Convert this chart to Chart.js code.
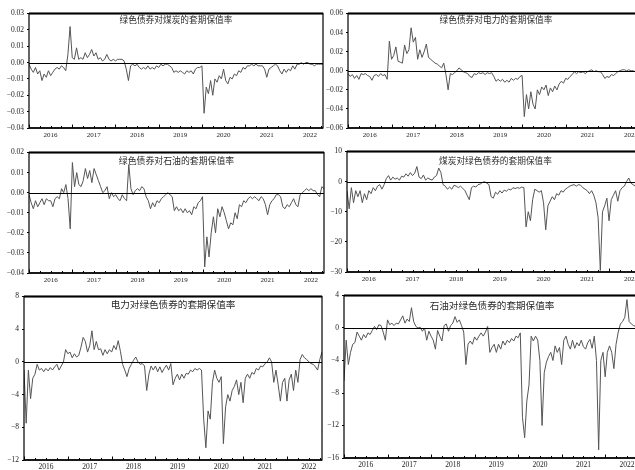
<!DOCTYPE html>
<html>
<head>
<meta charset="utf-8">
<script src="https://cdn.jsdelivr.net/npm/chart.js@4"></script>
<style>
  html, body { margin: 0; padding: 0; background: #fff; }
  body { width: 635px; height: 470px; overflow: hidden; position: relative; }
  canvas { position: absolute; }
</style>
</head>
<body>
<canvas id="p1"></canvas>
<canvas id="p2"></canvas>
<canvas id="p3"></canvas>
<canvas id="p4"></canvas>
<canvas id="p5"></canvas>
<canvas id="p6"></canvas>
<script>
// ===== 时间轴（每 0.05 年一个采样点，2016.00 ~ 2022.80） =====
const dates = Array.from({ length: 137 }, (_, i) => 2016 + i / 20);
const yearLabels = ['2016', '2017', '2018', '2019', '2020', '2021', '2022'];

// ===== 标题 =====
const titles = [
  '绿色债券对煤炭的套期保值率',
  '绿色债券对电力的套期保值率',
  '绿色债券对石油的套期保值率',
  '煤炭对绿色债券的套期保值率',
  '电力对绿色债券的套期保值率',
  '石油对绿色债券的套期保值率'
];

// ===== y 轴刻度 =====
const ticksGreenCoal  = [-0.04, -0.03, -0.02, -0.01, 0, 0.01, 0.02, 0.03];
const ticksGreenPower = [-0.06, -0.04, -0.02, 0, 0.02, 0.04, 0.06];
const ticksGreenOil   = [-0.04, -0.03, -0.02, -0.01, 0, 0.01, 0.02];
const ticksCoalGreen  = [-30, -20, -10, 0, 10];
const ticksPowerGreen = [-12, -8, -4, 0, 4, 8];
const ticksOilGreen   = [-16, -12, -8, -4, 0, 4];

// ===== 套期保值率序列 =====
const greenVsCoal = [
  -0.001, -0.004, -0.006, -0.003, -0.007, -0.005, -0.011, -0.007, -0.009, -0.005,
  -0.008, -0.006, -0.004, -0.003, -0.004, -0.002, -0.003, -0.005, 0.005, 0.022,
  0.003, 0.002, 0.009, 0.002, 0.003, 0.002, 0.006, 0.003, 0.005, 0.008,
  0.004, 0.006, 0.002, 0.003, 0.001, 0.002, 0.005, 0.002, 0.001, 0.002,
  0.001, 0.002, 0.002, 0.002, 0.001, -0.004, -0.011, -0.002, -0.001, -0.002,
  -0.001, -0.003, -0.004, -0.003, -0.004, -0.002, -0.004, -0.003, -0.004, -0.002,
  -0.003, -0.001, -0.002, -0.001, -0.001, -0.002, -0.003, -0.006, -0.005, -0.006,
  -0.005, -0.006, -0.007, -0.005, -0.006, -0.005, -0.007, -0.004, -0.003, -0.003,
  -0.002, -0.031, -0.015, -0.019, -0.011, -0.020, -0.010, -0.012, -0.008, -0.010,
  -0.004, -0.011, -0.013, -0.009, -0.010, -0.007, -0.008, -0.005, -0.006, -0.003,
  -0.004, -0.002, -0.002, -0.001, -0.002, -0.001, -0.002, -0.002, -0.002, -0.004,
  -0.009, -0.004, -0.003, -0.002, -0.001, -0.002, -0.005, -0.007, -0.004, -0.006,
  -0.004, -0.005, -0.002, -0.004, -0.001, -0.001, 0.000, -0.001, 0.000, 0.000,
  -0.001, -0.001, -0.002, -0.001, -0.001, -0.001, -0.001
];

const greenVsPower = [
  -0.003, -0.006, -0.004, -0.008, -0.005, -0.009, -0.003, -0.004, -0.003, -0.005,
  -0.006, -0.010, -0.005, -0.004, -0.006, -0.003, -0.005, -0.004, -0.009, 0.031,
  0.012, 0.016, 0.025, 0.010, 0.009, 0.008, 0.027, 0.018, 0.022, 0.045,
  0.030, 0.035, 0.012, 0.022, 0.014, 0.020, 0.028, 0.014, 0.012, 0.010,
  0.008, 0.007, 0.005, 0.003, 0.008, -0.004, -0.020, -0.003, -0.004, -0.002,
  0.000, 0.003, 0.001, -0.001, -0.002, -0.003, -0.006, -0.007, -0.003, -0.004,
  -0.002, -0.003, -0.002, -0.004, -0.002, -0.003, -0.002, -0.006, -0.011, -0.009,
  -0.011, -0.009, -0.012, -0.010, -0.012, -0.008, -0.010, -0.008, -0.009, -0.006,
  -0.005, -0.048, -0.025, -0.040, -0.022, -0.035, -0.040, -0.020, -0.025, -0.017,
  -0.020, -0.015, -0.026, -0.018, -0.022, -0.016, -0.020, -0.014, -0.011, -0.013,
  -0.008, -0.009, -0.006, -0.004, -0.001, -0.003, -0.001, -0.002, -0.001, -0.003,
  -0.001, 0.000, 0.001, -0.001, 0.000, -0.001, -0.001, -0.004, -0.008, -0.006,
  -0.007, -0.004, -0.005, -0.003, -0.001, 0.000, 0.001, 0.001, 0.000, 0.001,
  0.000, 0.000, -0.001, 0.000, 0.000, -0.001, 0.000
];

const greenVsOil = [
  -0.001, -0.005, -0.008, -0.004, -0.007, -0.005, -0.003, -0.006, -0.003, -0.004,
  -0.004, -0.007, -0.003, -0.002, -0.003, 0.002, 0.000, 0.004, -0.003, -0.018,
  0.015, 0.003, 0.010, 0.004, 0.003, 0.006, 0.012, 0.007, 0.011, 0.005,
  0.012, 0.009, 0.006, 0.003, 0.000, 0.001, 0.003, -0.003, 0.000, -0.002,
  -0.001, -0.003, -0.004, -0.001, -0.003, -0.004, 0.014, 0.002, -0.001, 0.001,
  0.002, 0.001, 0.003, 0.002, -0.002, -0.004, -0.008, -0.005, -0.007, -0.004,
  -0.005, -0.003, -0.002, -0.001, 0.000, -0.001, -0.002, -0.009, -0.007, -0.009,
  -0.008, -0.010, -0.008, -0.010, -0.009, -0.011, -0.007, -0.008, -0.005, -0.004,
  -0.002, -0.037, -0.022, -0.032, -0.020, -0.012, -0.020, -0.008, -0.012, -0.007,
  -0.010, -0.014, -0.018, -0.015, -0.016, -0.010, -0.013, -0.006, -0.007, -0.004,
  -0.005, -0.003, -0.002, -0.003, -0.002, -0.003, -0.004, -0.002, -0.003, -0.006,
  -0.011, -0.006, -0.004, -0.003, -0.001, -0.001, -0.002, -0.007, -0.008, -0.006,
  -0.007, -0.005, -0.003, -0.006, -0.007, -0.001, 0.000, 0.001, 0.002, 0.001,
  0.002, 0.001, 0.001, -0.001, -0.002, 0.003, 0.002
];

const coalVsGreen = [
  -3, -9, -2, -7, -3, -5, -3, -7, -4, -6,
  -3, -4, -2, -3, -1.5, -1, -2.5, -1, 1, 2,
  0.5, 1.5, 0.8, 1.2, 0.5, 1.8, 1.5, 2.6, 1.8, 3,
  2, 2.8, 5, 1.5, 1, 2.2, 0.5, 1.2, 0.8, 0.5,
  1.5, 2, 4.5, 3, -1, -1.5, -2.5, -1.8, -2.5, -1.2,
  -1.5, -2, -1.5, -2.2, -3, -4.5, -6, -2, -1.5, -1.8,
  -1, -0.8, -0.3, 0, -0.5, -1, -5, -5.5, -3.5, -4.2,
  -3, -3.8, -2.8, -3.2, -2.5, -2.8, -2, -2.3, -2, -2.2,
  -1.8, -2, -15, -10, -13, -6, -2.5, -3, -3.5, -3,
  -7, -16, -8, -6.5, -5, -6, -4, -4.5, -3, -3.5,
  -2.5, -2, -1.5, -1.2, -1, -1.5, -1, -1.2, -2, -2.5,
  -3, -4, -3, -4.5, -7, -12, -29.5, -10, -8, -5.5,
  -13, -6, -4.5, -3, -6.5, -3, -2, -1.5, 0, 1.2,
  -0.5, -1, -1.5, -1, -2, -1.5, -1
];

const powerVsGreen = [
  -1, -7.5, -1, -4.5, -2, -1.5, -0.3, -1, -0.8, -1.2,
  -0.8, -1.1, -0.7, -1, -0.6, -0.3, -1, -0.5, 0, 1.5,
  1, 1.2, 0.5, 1, 0.6, 0.8, 1.8, 3, 2.5, 1.2,
  2, 3.8, 1.5, 2.5, 1.5, 1.6, 0.8, 1.5, 1, 1.5,
  1.2, 2, 1.5, 2.6, 1.3, -0.3, -1, -1.8, -0.8, -0.3,
  0.2, 0.6, 0, -0.3, -0.2, -0.5, -3.5, -1.5, -0.5, -1,
  -0.5, -1.2, -0.6, -1.3, -0.8, -0.4, -1, -0.2, -2.8, -2,
  -1.5, -2.2, -1.5, -2, -1.4, -1.5, -1, -1.2, -0.8, -1,
  -0.8, -1, -7, -10.5, -6, -7, -2.5, -1, -2, -2.5,
  -1.8, -10, -5.5, -4, -4.8, -3.5, -3, -2.2, -4, -2.5,
  -5, -2, -1.5, -2, -1.3, -1.5, -0.8, -1, -0.5, -0.6,
  -0.2, 0, 0.5, 0, -2.5, -1, -2.8, -4.8, -2.5, -2,
  -4.8, -2.2, -1.5, -3.5, -1, -2.5, 0.3, 0.9, 0.5, 0.3,
  0, -0.2, -0.3, -0.6, -1, 0.3, 1.2
];

const oilVsGreen = [
  -6.5, -1.5, -4.5, -3, -2, -1.8, -0.5, -1, -1.5, -0.8,
  -1.2, -0.6, -0.8, -0.3, 0.2, -0.2, 0.4, 0.3, -0.5, -1.5,
  1, 0.4, 0.6, 0.3, 0.6, 0.5, 1, 1.5, 0.6, 1.1,
  0.8, 2.5, 0.8, 0.2, 0, 0.1, -0.4, 0, -1.5, -0.4,
  -1, -1.5, -2.6, -0.3, -1, -1.6, 0.3, 0.5, -0.4, 0.3,
  0.6, 1.4, 0.7, 1, 0.3, -0.5, -4.5, -2, -1.6, -2,
  -1.1, -1.5, -1, -0.6, -1, -0.5, 0.2, -3, -2.4, -2,
  -3, -2, -2.6, -1.6, -2.1, -1.5, -1.8, -1.3, -1.6, -1,
  -1.2, -0.6, -11, -13.5, -9, -7, -1, -1.6, -1, -1.5,
  -4, -12, -5.5, -4.2, -3.5, -3, -4, -2.2, -3, -2.4,
  -4.5, -1.5, -1, -2, -2.6, -1.5, -2.5, -1.8, -2.2, -1.5,
  -2.3, -2.6, -1.8, -1.4, -2.5, -1, -4, -15, -4, -3,
  -6, -3, -2.2, -3, -5, -2, -0.5, 0.5, 0.8, 1.3,
  3.5, 0.8, 0.5, 0.3, 0.2, 0.3, 0.1
];

// ===== 面板布局 =====
const panels = [
  { id: 'p1', left: 0,   top: 6,   w: 326, h: 136, wy: 29, hx: 14, data: greenVsCoal,  ticks: ticksGreenCoal,  dec: 2, tsize: 8.7, tdy: 6 },
  { id: 'p2', left: 316, top: 6,   w: 331, h: 136, wy: 32, hx: 14, data: greenVsPower, ticks: ticksGreenPower, dec: 2, tsize: 8.7, tdy: 6 },
  { id: 'p3', left: 0,   top: 145, w: 327, h: 142, wy: 29, hx: 14, data: greenVsOil,   ticks: ticksGreenOil,   dec: 2, tsize: 8.9, tdy: 8 },
  { id: 'p4', left: 316, top: 144, w: 331, h: 142, wy: 31, hx: 14, data: coalVsGreen,  ticks: ticksCoalGreen,  dec: 0, tsize: 8.7, tdy: 9 },
  { id: 'p5', left: 0,   top: 289, w: 325, h: 185, wy: 24, hx: 14, data: powerVsGreen, ticks: ticksPowerGreen, dec: 0, tsize: 9.6, tdy: 8 },
  { id: 'p6', left: 316, top: 288, w: 327, h: 184, wy: 28, hx: 14, data: oilVsGreen,   ticks: ticksOilGreen,   dec: 0, tsize: 9.6, tdy: 10 }
];

Chart.defaults.font.family = '"Liberation Serif", "DejaVu Serif", serif';
Chart.defaults.color = '#222';

// 边框、零线、x 轴内向刻度、面板标题
const panelDeco = {
  id: 'panelDeco',
  afterDraw(chart, args, opts) {
    const { ctx, chartArea: a, scales: { x, y } } = chart;
    ctx.save();
    ctx.strokeStyle = '#000';
    // 零线
    const y0 = Math.round(y.getPixelForValue(0)) + 0.5;
    ctx.lineWidth = 1.2;
    ctx.beginPath(); ctx.moveTo(a.left, y0); ctx.lineTo(a.right, y0); ctx.stroke();
    // 外框
    ctx.lineWidth = 1.2;
    ctx.strokeRect(a.left, a.top, a.right - a.left, a.bottom - a.top);
    ctx.lineWidth = 2;
    ctx.beginPath(); ctx.moveTo(a.left, a.top); ctx.lineTo(a.right, a.top); ctx.stroke();
    ctx.lineWidth = 1.6;
    ctx.beginPath(); ctx.moveTo(a.left, a.bottom); ctx.lineTo(a.right, a.bottom); ctx.stroke();
    // 季度刻度（年度长一些）
    ctx.lineWidth = 1;
    for (let k = 0; x.min + k * 0.25 <= x.max + 1e-9; k++) {
      const px = Math.round(x.getPixelForValue(x.min + k * 0.25)) + 0.5;
      const len = k % 4 === 0 ? 3.5 : 2;
      ctx.beginPath(); ctx.moveTo(px, a.bottom); ctx.lineTo(px, a.bottom - len); ctx.stroke();
    }
    // 标题
    ctx.fillStyle = '#2a2a2a';
    ctx.font = opts.size + 'px "Noto Sans CJK SC"';
    ctx.textAlign = 'center';
    ctx.textBaseline = 'middle';
    ctx.fillText(opts.text, (a.left + a.right) / 2, a.top + opts.dy);
    ctx.restore();
  }
};

function fmt(v, dec) {
  const s = Math.abs(v).toFixed(dec);
  return v < 0 ? '\u2212' + s : s;
}

panels.forEach((p, idx) => {
  const el = document.getElementById(p.id);
  el.width = p.w; el.height = p.h;
  el.style.left = p.left + 'px';
  el.style.top = p.top + 'px';
  new Chart(el.getContext('2d'), {
    type: 'line',
    data: {
      labels: dates,
      datasets: [{
        data: p.data,
        borderColor: '#555',
        borderWidth: 1,
        pointRadius: 0,
        tension: 0,
        fill: false
      }]
    },
    options: {
      responsive: false,
      animation: false,
      events: [],
      layout: { padding: { top: 7, right: 3, left: 0, bottom: 0 } },
      plugins: {
        legend: { display: false },
        tooltip: { enabled: false },
        panelDeco: { text: titles[idx], size: p.tsize, dy: p.tdy }
      },
      scales: {
        x: {
          type: 'linear',
          min: 2016,
          max: 2022.8,
          grid: { display: false, drawTicks: false },
          border: { display: false },
          afterFit: s => { s.height = p.hx; },
          afterBuildTicks: s => { s.ticks = yearLabels.map(yl => ({ value: Number(yl) + 0.5 })); },
          ticks: {
            autoSkip: false,
            maxRotation: 0,
            padding: 3,
            font: { size: idx >= 4 ? 7.5 : 7 },
            callback: v => String(Math.floor(v))
          }
        },
        y: {
          type: 'linear',
          min: p.ticks[0],
          max: p.ticks[p.ticks.length - 1],
          grid: { display: true, drawOnChartArea: false, drawTicks: true, tickLength: 2, color: '#000' },
          border: { display: false },
          afterFit: s => { s.width = p.wy; },
          afterBuildTicks: s => { s.ticks = p.ticks.map(v => ({ value: v })); },
          ticks: {
            padding: 3,
            font: { size: 7.5 },
            callback: v => fmt(v, p.dec)
          }
        }
      }
    },
    plugins: [panelDeco]
  });
});
</script>
</body>
</html>
